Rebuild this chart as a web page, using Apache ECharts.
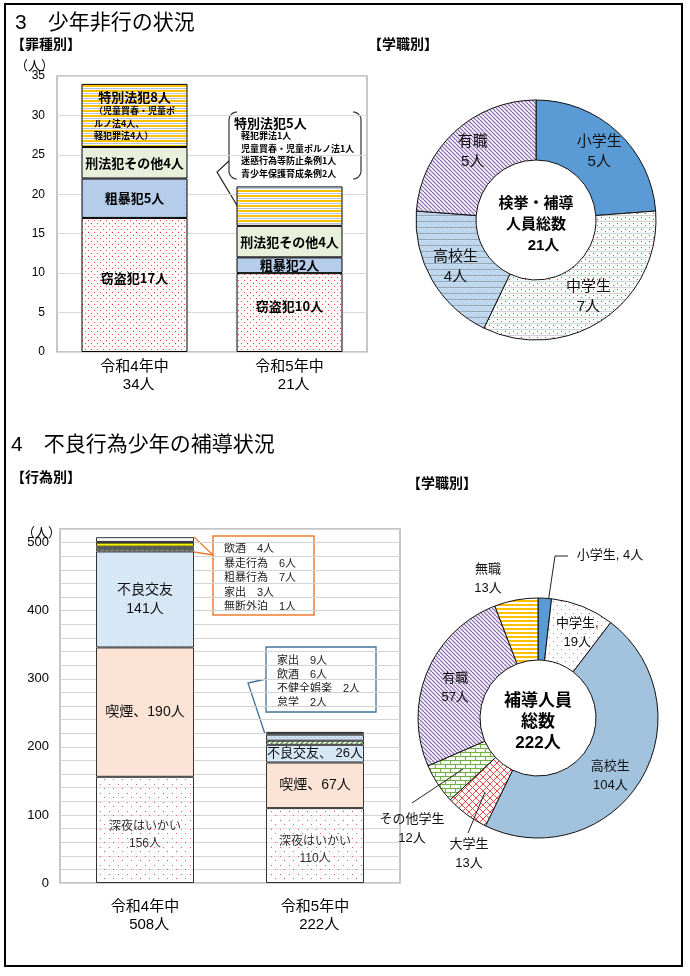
<!DOCTYPE html>
<html><head><meta charset="utf-8">
<script src="https://cdn.jsdelivr.net/npm/echarts@6/dist/echarts.min.js"></script>
<style>html,body{margin:0;padding:0;background:#fff}#c{width:690px;height:976px}</style>
</head><body><div id="c"></div>
<script>
const FONT = "'Liberation Sans','Noto Sans CJK JP',sans-serif";
const JP = "'Noto Sans CJK JP',sans-serif";

// ---------- data: section 3 (罪種別) ----------
const categories = ['令和4年中', '令和5年中'];
const theft = [17, 10];        // 窃盗犯
const violent = [5, 2];        // 粗暴犯
const otherPenal = [4, 4];     // 刑法犯その他
const specialLaw = [8, 5];     // 特別法犯
const specialLawR4Note = ['（児童買春・児童ポ', 'ルノ法4人、', '軽犯罪法4人）'];
const specialLawR5Names = ['軽犯罪法', '児童買春・児童ポルノ法', '迷惑行為等防止条例', '青少年保護育成条例'];
const specialLawR5Values = [1, 1, 1, 2];
const topYTicks = [0, 35, 5];

// ---------- data: section 3 (学職別) ----------
const topPieNames = ['小学生', '中学生', '高校生', '有職'];
const topPieValues = [5, 7, 4, 5];

// ---------- data: section 4 (行為別) ----------
const lateNight = [156, 110];   // 深夜はいかい
const smoking = [190, 67];      // 喫煙
const badCompany = [141, 26];   // 不良交友
const drinking = [4, 6];        // 飲酒
const runaway = [3, 9];         // 家出
const reckless = [6, 0];        // 暴走行為
const overnight = [1, 0];       // 無断外泊
const rough = [7, 0];           // 粗暴行為
const unwholesome = [0, 2];     // 不健全娯楽
const truancy = [0, 2];         // 怠学
const bottomYTicks = [0, 520, 20];

// ---------- data: section 4 (学職別) ----------
const bottomPieNames = ['小学生', '中学生', '高校生', '大学生', 'その他学生', '有職', '無職'];
const bottomPieValues = [4, 19, 104, 13, 12, 57, 13];

// ---------- patterns ----------
function pattern(w, h, draw) {
  const c = document.createElement('canvas'); c.width = w; c.height = h;
  const g = c.getContext('2d'); draw(g, w, h);
  return { image: c, repeat: 'repeat' };
}
function dots(bg, fg, w, h, pts, extra) {
  return pattern(w, h, g => {
    g.clearRect(0, 0, w, h);
    g.fillStyle = bg; g.fillRect(0, 0, w, h);
    if (extra) extra(g, w, h);
    g.fillStyle = fg; pts.forEach(([x, y]) => g.fillRect(x, y, 1, 1));
  });
}
function diag(bg, fg, s, lw, both, dirDown) {
  return pattern(s, s, g => {
    g.fillStyle = bg; g.fillRect(0, 0, s, s);
    g.strokeStyle = fg; g.lineWidth = lw; g.beginPath();
    for (let k = -1; k <= 1; k++) {
      if (dirDown || both) { g.moveTo(k * s, 0); g.lineTo(k * s + s, s); }
      if (!dirDown || both) { g.moveTo(k * s, s); g.lineTo(k * s + s, 0); }
    }
    g.stroke();
  });
}
function hstripes(rows) {
  return pattern(4, rows.length, g => rows.forEach((c, i) => { g.fillStyle = c; g.fillRect(0, i, 4, 1); }));
}
function speckle(a, b, c) {
  return pattern(4, 4, g => {
    g.fillStyle = a; g.fillRect(0, 0, 4, 4);
    g.fillStyle = b; g.fillRect(0, 0, 1, 1); g.fillRect(2, 2, 1, 1);
    g.fillStyle = c; g.fillRect(1, 3, 1, 1); g.fillRect(3, 1, 1, 1);
  });
}

const P = {
  theft: dots('#fff9f9', '#f04040', 6, 6, [[1, 1], [4, 4]]),
  violent: speckle('#b5cde9', '#a9c4e4', '#c2d6ee'),
  otherPenal: '#e8f0dc',
  special: hstripes(['#ffc000', '#ffc000', '#ffffff', '#b8c2dc', '#ffffff']),
  pieJunior: dots('#ffffff', '#f03838', 8, 6, [[1, 1], [5, 3]], (g) => { g.fillStyle = '#d2d2d2'; g.fillRect(0, 5, 8, 1); }),
  pieHigh: pattern(6, 6, g => { g.fillStyle = '#bcd6ee'; g.fillRect(0, 0, 6, 6); g.fillStyle = '#d6e6f5'; g.fillRect(0, 0, 1, 1); g.fillRect(2, 2, 1, 1); g.fillRect(4, 0, 1, 1); g.fillStyle = '#9aa6b4'; g.fillRect(0, 5, 6, 1); }),
  purple: diag('#f6f2fa', '#8364aa', 4, 1.1, false, true),
  blue: '#5b9bd5',
  bJunior: dots('#ffffff', '#ee6a78', 8, 8, [[1, 1], [5, 5]]),
  bHigh: pattern(2, 2, g => { g.fillStyle = '#a9c9e2'; g.fillRect(0, 0, 2, 2); g.fillStyle = '#9abcd8'; g.fillRect(0, 0, 1, 1); g.fillRect(1, 1, 1, 1); }),
  bUniv: diag('#ffffff', '#e84848', 7, 1, true),
  bBrick: pattern(10, 8, g => { g.fillStyle = '#f6faf1'; g.fillRect(0, 0, 10, 8); g.fillStyle = '#72ae48'; g.fillRect(0, 0, 10, 1); g.fillRect(0, 4, 10, 1); g.fillRect(0, 0, 1, 4); g.fillRect(5, 4, 1, 4); }),
  bJobless: hstripes(['#ffc000', '#ffc000', '#ffffff', '#ffffff']),
  late: dots('rgba(255,255,255,0.35)', '#ec5a5a', 9, 9, [[1, 1], [5, 5]]),
  smoking: '#fbe4d5',
  badCompany: speckle('#d6e7f7', '#eaf3fc', '#c7dcf1'),
  drinking: diag('#ffffff', '#4f9a30', 5, 1.3, false, false),
  runaway: speckle('#c6dbf0', '#e2edf8', '#b6cfe9'),
  reckless: '#f3f300',
  overnight: '#404040',
  rough: dots('#ffffff', '#7a3ca8', 4, 4, [[1, 1]]),
  white: '#ffffff'
};

const sumAt = (arrs, i) => arrs.reduce((s, a) => s + a[i], 0);
const topTotals = categories.map((_, i) => sumAt([theft, violent, otherPenal, specialLaw], i));
const bottomArrs = [lateNight, smoking, badCompany, drinking, runaway, reckless, overnight, rough, unwholesome, truancy];
const bottomTotals = categories.map((_, i) => sumAt(bottomArrs, i));

const chart = echarts.init(document.getElementById('c'), null, { renderer: 'canvas' });

function topBar(name, data, color, label) {
  return {
    type: 'bar', name, data, stack: 'top', xAxisIndex: 0, yAxisIndex: 0, barWidth: 106,
    itemStyle: { color, borderColor: '#000', borderWidth: 1 },
    label: Object.assign({ show: true, position: 'inside', color: '#000', fontFamily: JP, fontWeight: 'bold', fontSize: 13,
      formatter: p => `${p.seriesName}${p.value}人` }, label || {}),
    emphasis: { disabled: true }
  };
}
function bottomBar(name, data, color, label) {
  return {
    type: 'bar', name, data: data.map(v => v || null), stack: 'bottom', xAxisIndex: 1, yAxisIndex: 1, barWidth: 98,
    itemStyle: { color, borderColor: '#333', borderWidth: 1 },
    label: Object.assign({ show: false }, label || {}),
    emphasis: { disabled: true }
  };
}
const bLabel = (fmt, extra) => Object.assign({ show: true, position: 'inside', color: '#111', fontFamily: FONT, fontSize: 14, lineHeight: 19, formatter: fmt }, extra || {});

const topPieColors = [P.blue, P.pieJunior, P.pieHigh, P.purple];
const bottomPieColors = [P.blue, P.bJunior, P.bHigh, P.bUniv, P.bBrick, P.purple, P.bJobless];

const bottomPieSpots = {
  '小学生': { x: 610, y: 555, line: [[544, 630], [555, 556], [568, 556]] },
  '無職': { x: 488, y: 579 },
  'その他学生': { x: 412, y: 829 },
  '大学生': { x: 469, y: 854 },
  '高校生': { dx: -6, dy: 10 },
  '有職': { dx: 2, dy: 5 },
  '中学生': { dx: 5, dy: 0 }
};
const leaderLines = [[[463, 769], [412, 803]], [[485, 792], [468, 833]]];
const outsideNames = ['小学生', '無職', 'その他学生', '大学生'];

const orangeLines = [['飲酒', drinking[0]], ['暴走行為', reckless[0]], ['粗暴行為', rough[0]], ['家出', runaway[0]], ['無断外泊', overnight[0]]];
const blueLines = [['家出', runaway[1]], ['飲酒', drinking[1]], ['不健全娯楽', unwholesome[1]], ['怠学', truancy[1]]];

const txt = (text, x, y, size, weight, extra) => ({
  type: 'text', silent: true,
  style: Object.assign({ text, x, y, fill: '#000', font: `${weight || 'normal'} ${size}px ${FONT}`, textAlign: 'left', textVerticalAlign: 'middle' }, extra || {})
});

function arcPts(cx, cy, r, a0, a1) {
  const pts = []; const n = 8;
  for (let k = 0; k <= n; k++) { const a = (a0 + (a1 - a0) * k / n) * Math.PI / 180; pts.push([cx + r * Math.cos(a), cy + r * Math.sin(a)]); }
  return pts;
}
const bx0 = 229, bx1 = 361, by0 = 112, by1 = 179, br = 8;
const leftBracket = [...arcPts(bx0 + br, by0 + br, br, -90, -180), ...arcPts(bx0 + br, by1 - br, br, 180, 90)];
const rightBracket = [...arcPts(bx1 - br, by0 + br, br, -90, 0), ...arcPts(bx1 - br, by1 - br, br, 0, 90)];

const option = {
  animation: false,
  textStyle: { fontFamily: FONT },
  grid: [
    { left: 57, top: 76, width: 310, height: 276, show: true, borderColor: '#b4b4b4', borderWidth: 1.5, backgroundColor: 'transparent' },
    { left: 60, top: 529, width: 340, height: 354, show: true, borderColor: '#b4b4b4', borderWidth: 1.5, backgroundColor: 'transparent' }
  ],
  xAxis: [
    { type: 'category', gridIndex: 0, data: categories, axisLine: { show: false }, axisTick: { show: false },
      axisLabel: { color: '#000', fontSize: 15, lineHeight: 18, margin: 6, fontFamily: FONT, formatter: (v, i) => `${v}\n  ${topTotals[i]}人` } },
    { type: 'category', gridIndex: 1, data: categories, axisLine: { show: false }, axisTick: { show: false },
      axisLabel: { color: '#000', fontSize: 15, lineHeight: 18, margin: 15, fontFamily: FONT, formatter: (v, i) => `${v}\n  ${bottomTotals[i]}人` } }
  ],
  yAxis: [
    { type: 'value', gridIndex: 0, min: topYTicks[0], max: topYTicks[1], interval: topYTicks[2], axisLine: { show: false }, axisTick: { show: false },
      splitLine: { lineStyle: { color: '#d9d9d9', width: 1 } }, axisLabel: { color: '#000', fontSize: 12, margin: 12, fontFamily: FONT } },
    { type: 'value', gridIndex: 1, min: bottomYTicks[0], max: bottomYTicks[1], interval: bottomYTicks[2], axisLine: { show: false }, axisTick: { show: false },
      splitLine: { lineStyle: { color: '#d4d4d4', width: 1 } },
      axisLabel: { color: '#000', fontSize: 13, margin: 11, fontFamily: FONT, formatter: v => (v % 100 === 0 ? String(v) : '') } }
  ],
  series: [
    topBar('窃盗犯', theft, P.theft, { offset: [0, -7] }),
    topBar('粗暴犯', violent, P.violent),
    topBar('刑法犯その他', otherPenal, P.otherPenal),
    topBar('特別法犯', specialLaw, P.special, {
      formatter: p => p.dataIndex === 0 ? `{t|${p.seriesName}${p.value}人}\n` + specialLawR4Note.map(s => `{s|${s}}`).join('\n') : '',
      rich: {
        t: { fontFamily: JP, fontWeight: 'bold', fontSize: 13, lineHeight: 16, align: 'center', color: '#000' },
        s: { fontFamily: JP, fontWeight: 'bold', fontSize: 9, lineHeight: 12.5, align: 'left', color: '#000' }
      },
      offset: [0, 0]
    }),
    bottomBar('深夜はいかい', lateNight, P.late, bLabel(p => `${p.seriesName}\n${p.value}人`, { fontSize: 12, lineHeight: 17, offset: [0, 5], color: '#333' })),
    bottomBar('喫煙', smoking, P.smoking, bLabel(p => `${p.seriesName}、${p.value}人`)),
    bottomBar('不良交友', badCompany, P.badCompany, bLabel(p => p.dataIndex === 0 ? `${p.seriesName}\n${p.value}人` : `{s|${p.seriesName}、 ${p.value}人}`, {
      fontSize: 14, rich: { s: { fontSize: 13, fontFamily: FONT, color: '#111' } } })),
    bottomBar('飲酒', drinking, P.drinking),
    bottomBar('家出', runaway, P.runaway),
    bottomBar('暴走行為', reckless, P.reckless),
    bottomBar('無断外泊', overnight, P.overnight),
    bottomBar('粗暴行為', rough, P.rough),
    bottomBar('不健全娯楽', unwholesome, P.white),
    bottomBar('怠学', truancy, P.white),
    {
      type: 'pie', center: [536, 220], radius: [60, 120], startAngle: 90, clockwise: true, avoidLabelOverlap: false,
      emphasis: { disabled: true }, silent: true,
      itemStyle: { borderColor: '#111', borderWidth: 1 },
      label: { show: true, position: 'inside', formatter: '{b}\n{c}人', fontSize: 15, lineHeight: 20, color: '#111', fontFamily: FONT },
      labelLine: { show: false },
      data: topPieNames.map((n, i) => ({ name: n, value: topPieValues[i], itemStyle: { color: topPieColors[i] } }))
    },
    {
      type: 'pie', center: [538, 718], radius: [58, 120], startAngle: 90, clockwise: true, avoidLabelOverlap: false,
      emphasis: { disabled: true }, silent: true,
      itemStyle: { borderColor: '#111', borderWidth: 1 },
      label: { show: true, position: 'inside', formatter: '{b}\n{c}人', fontSize: 13, lineHeight: 19, color: '#111', fontFamily: FONT },
      labelLine: { show: false },
      labelLayout: p => {
        const s = bottomPieSpots[bottomPieNames[p.dataIndex]]; if (!s) return {};
        if (s.x !== undefined) {
          const o = { x: s.x, y: s.y, align: 'center', verticalAlign: 'middle' };
          if (s.line) o.labelLinePoints = s.line;
          return o;
        }
        return { dx: s.dx, dy: s.dy };
      },
      data: bottomPieNames.map((n, i) => {
        const d = { name: n, value: bottomPieValues[i], itemStyle: { color: bottomPieColors[i] } };
        if (outsideNames.includes(n)) {
          d.label = { position: 'outside', formatter: n === '小学生' ? '{b}, {c}人' : '{b}\n{c}人' };
          d.labelLine = { show: !!bottomPieSpots[n].line, showAbove: true, length: 8, length2: 8, smooth: false, lineStyle: { color: '#222', width: 1 } };
        } else if (n === '中学生') {
          d.label = { formatter: '{b},\n{c}人' };
        }
        return d;
      })
    }
  ],
  graphic: { elements: [
    { type: 'rect', silent: true, shape: { x: 5, y: 4, width: 677, height: 962 }, style: { fill: 'none', stroke: '#000', lineWidth: 2 } },
    txt('3　少年非行の状況', 15, 23, 21),
    txt('【罪種別】', 11, 45, 14, 'bold'),
    txt('【学職別】', 368, 45, 14, 'bold'),
    txt('（人）', 15, 66, 13),
    txt('4　不良行為少年の補導状況', 11, 445, 21),
    txt('【行為別】', 11, 478, 14, 'bold'),
    txt('【学職別】', 407, 484, 14, 'bold'),
    txt('（人）', 22, 533, 13),
    // top callout (brackets)
    { type: 'polyline', silent: true, shape: { points: leftBracket }, style: { fill: 'none', stroke: '#333', lineWidth: 1.2 } },
    { type: 'polyline', silent: true, shape: { points: rightBracket }, style: { fill: 'none', stroke: '#333', lineWidth: 1.2 } },
    { type: 'polyline', silent: true, shape: { points: [[229, 161], [217, 172], [238, 207]] }, style: { fill: 'none', stroke: '#222', lineWidth: 1.2 } },
    txt(`特別法犯${specialLaw[1]}人`, 234, 123, 13, 'bold', { font: `bold 13px ${JP}` }),
    txt(specialLawR5Names.map((n, i) => `${n}${specialLawR5Values[i]}人`).join('\n'), 241, 129.5, 9, 'bold', { font: `bold 9px ${JP}`, lineHeight: 12.5, textVerticalAlign: 'top' }),
    // orange callout
    { type: 'rect', silent: true, shape: { x: 213, y: 536, width: 101, height: 79 }, style: { fill: '#fff', stroke: '#ed7d31', lineWidth: 1.5 } },
    { type: 'polyline', silent: true, shape: { points: [[194, 537], [213, 555], [194, 552]] }, style: { fill: 'none', stroke: '#ed7d31', lineWidth: 1.3 } },
    txt(orangeLines.map(([n, v]) => `${n}　${v}人`).join('\n'), 224, 542, 11, 'normal', { lineHeight: 14.5, textVerticalAlign: 'top', fill: '#222' }),
    // blue callout
    { type: 'rect', silent: true, shape: { x: 266, y: 647, width: 110, height: 65 }, style: { fill: '#fff', stroke: '#41719c', lineWidth: 1.3 } },
    { type: 'polyline', silent: true, shape: { points: [[266, 679], [248, 683], [265, 734]] }, style: { fill: 'none', stroke: '#41719c', lineWidth: 1.3 } },
    txt(blueLines.map(([n, v]) => `${n}　${v}人`).join('\n'), 277, 654, 11, 'normal', { lineHeight: 14, textVerticalAlign: 'top', fill: '#222' }),
    // pie leader lines
    ...leaderLines.map(pts => ({ type: 'polyline', silent: true, z: 10, shape: { points: pts }, style: { fill: 'none', stroke: '#222', lineWidth: 1 } })),
    // pie centre texts
    txt(`検挙・補導\n人員総数\n　${topPieValues.reduce((a, b) => a + b, 0)}人`, 536, 225, 15, 'bold', { textAlign: 'center', lineHeight: 21 }),
    txt(`補導人員\n総数\n${bottomPieValues.reduce((a, b) => a + b, 0)}人`, 538, 722, 17, 'bold', { textAlign: 'center', lineHeight: 21 })
  ] }
};
chart.setOption(option);
</script></body></html>
